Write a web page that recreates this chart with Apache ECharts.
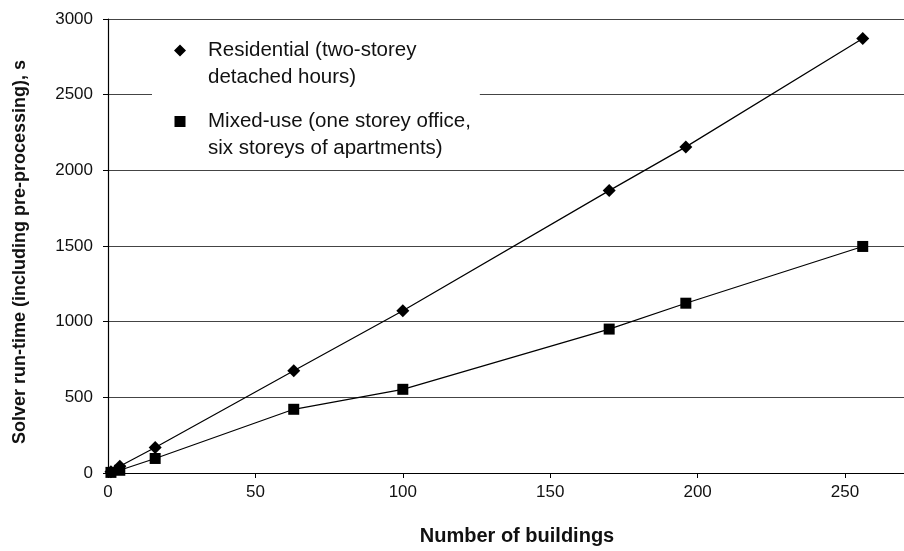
<!DOCTYPE html>
<html>
<head>
<meta charset="utf-8">
<script src="https://cdn.jsdelivr.net/npm/echarts@6/dist/echarts.min.js"></script>
<style>
  html, body { margin: 0; padding: 0; background: #fff; }
  #chart { width: 904px; height: 551px; }
</style>
</head>
<body>
<div id="chart"></div>
<script>
// Number of buildings simulated in each run
const buildings = [1, 4, 16, 63, 100, 170, 196, 256];
// Solver run-time (s), residential district
const residentialTime = [8, 44, 168, 676, 1072, 1866, 2155, 2871];
// Solver run-time (s), mixed-use district
const mixedTime = [4, 18, 96, 421, 553, 951, 1122, 1497];

const xTicks = [0, 50, 100, 150, 200, 250];
const yTicks = [0, 500, 1000, 1500, 2000, 2500, 3000];

const residentialName = 'Residential (two-storey detached hours)';
const mixedName = 'Mixed-use (one storey office, six storeys of apartments)';
const legendLines = {};
legendLines[residentialName] = 'Residential (two-storey\ndetached hours)';
legendLines[mixedName] = 'Mixed-use (one storey office,\nsix storeys of apartments)';

const pairs = (xs, ys) => xs.map((x, i) => [x, ys[i]]);

const FONT = '"Liberation Sans", Arial, Helvetica, sans-serif';
const LINE_H = 27;

// Legend icons: the marker sits at the top of a tall, otherwise empty box so
// that it lines up with the first line of its two-line label.
const ICON_BOX_H = 39;
const diamondIcon = 'path://M6,0L12,6L6,12L0,6Z M6,' + ICON_BOX_H + 'L6.01,' + ICON_BOX_H;
const squareIcon = 'path://M0.5,0.5L11.5,0.5L11.5,11.5L0.5,11.5Z M0,' + ICON_BOX_H + 'L12,' + ICON_BOX_H + 'M0,0';

const chart = echarts.init(document.getElementById('chart'), null, { renderer: 'canvas' });
chart.setOption({
  backgroundColor: '#ffffff',
  animation: false,
  textStyle: { fontFamily: FONT },
  grid: { left: 108, right: 0, top: 19, bottom: 76, containLabel: false },
  legend: {
    left: 152,
    top: 30,
    orient: 'vertical',
    backgroundColor: '#ffffff',
    padding: [7, 9, 4, 22],
    itemWidth: 12,
    itemHeight: ICON_BOX_H,
    itemGap: 71 - 2 * LINE_H,
    data: [
      { name: residentialName, icon: diamondIcon },
      { name: mixedName, icon: squareIcon }
    ],
    formatter: name => legendLines[name],
    textStyle: {
      fontFamily: FONT,
      fontSize: 20.5,
      color: '#111',
      lineHeight: LINE_H,
      padding: [0, 0, 0, 17]
    }
  },
  xAxis: {
    type: 'value',
    min: 0,
    max: 270,
    interval: 50,
    name: 'Number of buildings',
    nameLocation: 'middle',
    nameGap: 53,
    nameTextStyle: { fontFamily: FONT, fontSize: 20, fontWeight: 'bold', color: '#111', padding: [0, 0, 0, 22] },
    axisLine: { show: true, onZero: false, lineStyle: { color: '#000', width: 1.2 } },
    axisTick: { show: true, inside: false, length: 5, lineStyle: { color: '#000' } },
    axisLabel: {
      fontFamily: FONT, fontSize: 17, color: '#111', margin: 11,
      showMaxLabel: false,
      formatter: v => (xTicks.indexOf(v) >= 0 ? String(v) : '')
    },
    splitLine: { show: false }
  },
  yAxis: {
    type: 'value',
    min: 0,
    max: 3000,
    interval: 500,
    name: 'Solver run-time (including pre-processing), s',
    nameLocation: 'middle',
    nameGap: 79,
    nameRotate: 90,
    nameTextStyle: { fontFamily: FONT, fontSize: 18, fontWeight: 'bold', color: '#111', padding: [0, 12, 0, 0] },
    axisLine: { show: true, lineStyle: { color: '#000', width: 1.2 } },
    axisTick: { show: true, inside: false, length: 5, lineStyle: { color: '#000' } },
    axisLabel: {
      fontFamily: FONT, fontSize: 17, color: '#111', margin: 15,
      formatter: v => (yTicks.indexOf(v) >= 0 ? String(v) : '')
    },
    splitLine: { show: true, lineStyle: { color: '#444', width: 1 } }
  },
  series: [
    {
      name: residentialName,
      type: 'line',
      data: pairs(buildings, residentialTime),
      symbol: 'diamond',
      symbolSize: 13,
      itemStyle: { color: '#000' },
      lineStyle: { color: '#000', width: 1.2 },
      z: 3
    },
    {
      name: mixedName,
      type: 'line',
      data: pairs(buildings, mixedTime),
      symbol: 'rect',
      symbolSize: 11,
      itemStyle: { color: '#000' },
      lineStyle: { color: '#000', width: 1.2 },
      z: 3
    }
  ]
});
</script>
</body>
</html>
